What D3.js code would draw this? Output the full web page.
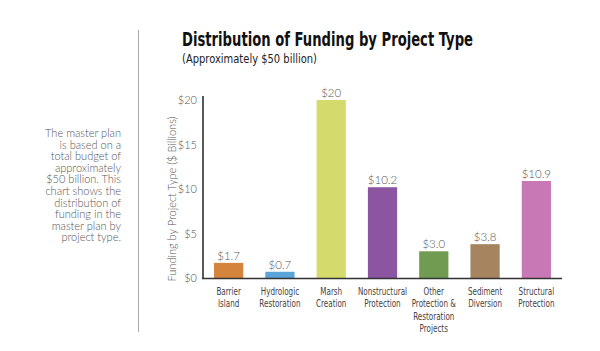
<!DOCTYPE html>
<html>
<head>
<meta charset="utf-8">
<script src="https://cdn.jsdelivr.net/npm/d3@7"></script>
<style>
  body { margin: 0; background: #fff; }
  svg { display: block; }
  .narrow { font-family: 'DejaVu Sans', sans-serif; font-stretch: condensed; }
</style>
</head>
<body>
<div id="chart"></div>
<script>
// -----------------------------------------------------------------------------
// Data
// -----------------------------------------------------------------------------

var categories = [
  ["Barrier", "Island"],
  ["Hydrologic", "Restoration"],
  ["Marsh", "Creation"],
  ["Nonstructural", "Protection"],
  ["Other", "Protection &", "Restoration", "Projects"],
  ["Sediment", "Diversion"],
  ["Structural", "Protection"]
];
var values = [1.7, 0.7, 20, 10.2, 3.0, 3.8, 10.9];
var valueLabels = ["$1.7", "$0.7", "$20", "$10.2", "$3.0", "$3.8", "$10.9"];
var barColors = ["#d4843c", "#5ba4da", "#d4db6c", "#8b55a1", "#729b52", "#a6845f", "#c878b5"];
var yTicks = [0, 5, 10, 15, 20];
var noteLines = [
  "The master plan", "is based on a", "total budget of", "approximately",
  "$50 billion. This", "chart shows the", "distribution of",
  "funding in the", "master plan by", "project type."
];

var W = 600, H = 351;
var light = "Lato, 'Open Sans', sans-serif";

var svg = d3.select("#chart").append("svg")
    .attr("width", W)
    .attr("height", H);

// divider
svg.append("line")
    .attr("x1", 138.5).attr("x2", 138.5)
    .attr("y1", 30).attr("y2", 332)
    .attr("stroke", "#aaa")
    .attr("stroke-width", 1);

// side note
svg.append("g")
  .selectAll("text")
  .data(noteLines)
  .join("text")
    .attr("x", 121)
    .attr("y", function(d, i) { return 137 + i * 11.6; })
    .attr("text-anchor", "end")
    .attr("font-family", light)
    .attr("font-weight", 300)
    .attr("font-size", 11)
    .attr("fill", "#555")
    .text(function(d) { return d; });

// titles
svg.append("text")
    .attr("class", "narrow")
    .attr("x", 182).attr("y", 46)
    .attr("font-weight", "bold")
    .attr("font-size", 20)
    .attr("fill", "#111")
    .attr("textLength", 291)
    .attr("lengthAdjust", "spacingAndGlyphs")
    .text("Distribution of Funding by Project Type");

svg.append("text")
    .attr("class", "narrow")
    .attr("x", 182).attr("y", 63)
    .attr("font-size", 12.5)
    .attr("fill", "#222")
    .attr("textLength", 135)
    .attr("lengthAdjust", "spacingAndGlyphs")
    .text("(Approximately $50 billion)");

// scales
var x0 = 203, x1 = 562, yBottom = 278, yTop = 100;

var xScale = d3.scaleBand()
    .domain(d3.range(values.length))
    .range([x0, x1])
    .paddingInner(0.43)
    .paddingOuter(0.215);

var yScale = d3.scaleLinear()
    .domain([0, 20])
    .range([yBottom, yTop]);

// y axis
var yAxis = svg.append("g")
    .attr("transform", "translate(" + x0 + ",0)")
    .call(d3.axisLeft(yScale)
        .tickValues(yTicks)
        .tickSize(0)
        .tickPadding(6)
        .tickFormat(function(d) { return "$" + d; }));
yAxis.select(".domain")
    .attr("d", "M0," + (yBottom + 1) + "V" + (yTop - 4))
    .attr("stroke", "#222")
    .attr("stroke-width", 1.5);
yAxis.selectAll("text")
    .attr("font-family", light)
    .attr("font-weight", 300)
    .attr("font-size", 11)
    .attr("fill", "#555");

svg.append("text")
    .attr("transform", "translate(176," + 199 + ") rotate(-90)")
    .attr("text-anchor", "middle")
    .attr("font-family", light)
    .attr("font-weight", 300)
    .attr("font-size", 11)
    .attr("fill", "#555")
    .text("Funding by Project Type ($ Billions)");

// bars
svg.append("g")
  .selectAll("rect")
  .data(values)
  .join("rect")
    .attr("x", function(d, i) { return xScale(i); })
    .attr("y", function(d) { return yScale(d); })
    .attr("width", xScale.bandwidth())
    .attr("height", function(d) { return yBottom - yScale(d); })
    .attr("fill", function(d, i) { return barColors[i]; });

// value labels
svg.append("g")
  .selectAll("text")
  .data(values)
  .join("text")
    .attr("x", function(d, i) { return xScale(i) + xScale.bandwidth() / 2; })
    .attr("y", function(d) { return yScale(d) - 3; })
    .attr("text-anchor", "middle")
    .attr("font-family", light)
    .attr("font-weight", 300)
    .attr("font-size", 11.5)
    .attr("fill", "#555")
    .text(function(d, i) { return valueLabels[i]; });

// x axis
svg.append("line")
    .attr("x1", x0 - 1).attr("x2", x1)
    .attr("y1", yBottom + 0.5).attr("y2", yBottom + 0.5)
    .attr("stroke", "#333")
    .attr("stroke-width", 1.5);

// x labels: condensed look via horizontal squeeze around each label centre
var xLabels = svg.append("g")
  .selectAll("text")
  .data(categories)
  .join("text")
    .attr("class", "narrow")
    .attr("transform", function(d, i) {
      return "translate(" + (xScale(i) + xScale.bandwidth() / 2) + ",295) scale(0.8,1)";
    })
    .attr("text-anchor", "middle")
    .attr("font-size", 10)
    .attr("fill", "#444");

xLabels.selectAll("tspan")
  .data(function(d) { return d; })
  .join("tspan")
    .attr("x", 0)
    .attr("dy", function(d, i) { return i === 0 ? 0 : 12.5; })
    .text(function(d) { return d; });
</script>
</body>
</html>
